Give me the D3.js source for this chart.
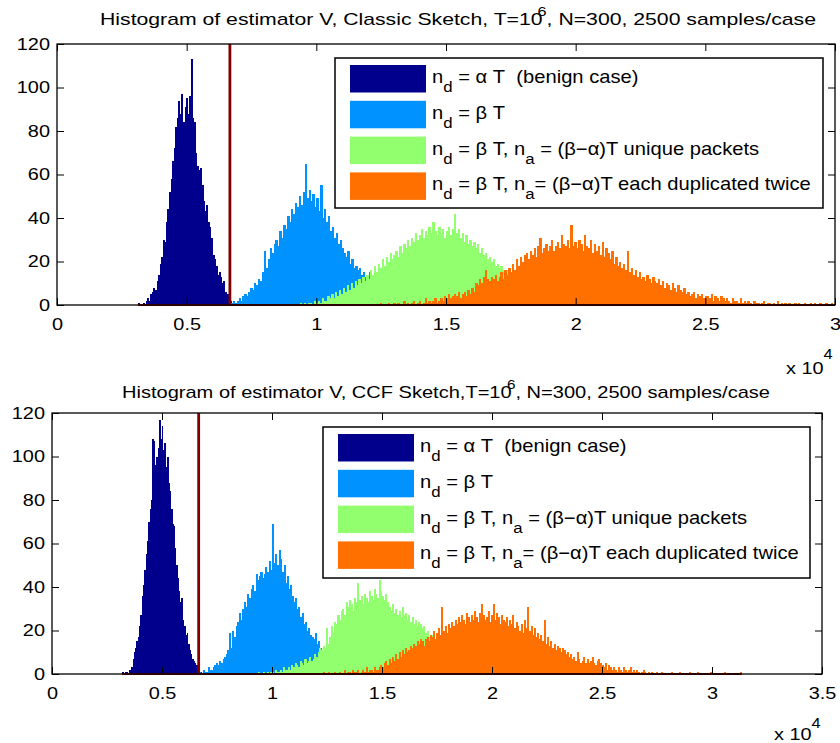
<!DOCTYPE html>
<html>
<head>
<meta charset="utf-8">
<script src="https://cdn.jsdelivr.net/npm/d3@7"></script>
<style>
  body { margin: 0; background: #fff; }
  svg { font-family: "Liberation Sans", Arial, sans-serif; }
</style>
</head>
<body>
<div id="chart"></div>
<script>
// colours of the four cases
const seriesColors = ["#00008c", "#0092ff", "#92ff6e", "#ff7000"];

// legend labels: alternating normal text / subscript
const legendLabels = [
    ["n", "d", " = \u03b1 T\u00a0\u00a0(benign case)"],
    ["n", "d", " = \u03b2 T"],
    ["n", "d", " = \u03b2 T, n", "a", " = (\u03b2\u2212\u03b1)T unique packets"],
    ["n", "d", " = \u03b2 T, n", "a", "= (\u03b2\u2212\u03b1)T each duplicated twice"]
];

const yTicks = [0, 20, 40, 60, 80, 100, 120];
const xTicksClassic = [0, 5000, 10000, 15000, 20000, 25000, 30000];
const xTicksCCF = [0, 5000, 10000, 15000, 20000, 25000, 30000, 35000];
const threshold = 6667;

// bin starts and widths per series (in estimator units)
const binStart = [3120, 6700, 9300, 12300];
const binStartCCF = [3180, 6700, 9300, 12300];
const binWidth = [60, 75, 75, 75];

// ---- Classic sketch counts ----
const classicBenign = [1,0,0,1,0,2,3,2,5,6,8,7,11,14,19,22,30,29,38,44,52,58,66,72,82,86,94,88,97,84,
    91,95,88,96,113,86,84,70,64,62,63,55,48,43,46,38,36,31,23,21,18,14,15,13,10,11,6,5,3,2,1];
const classicBeta = [1,2,1,2,3,2,4,5,4,6,8,7,10,9,12,11,15,25,17,21,26,24,28,30,27,34,31,37,35,41,
    38,44,42,47,45,50,46,52,65,49,53,48,51,45,49,43,55,40,44,38,41,34,36,31,33,28,30,26,24,22,
    25,19,21,17,18,16,17,14,15,13,14,15,10,9,8,7,5,6,4,3,2,2,1];
const classicUnique = [0,1,0,1,0,1,1,0,2,1,2,1,3,2,2,4,3,5,3,6,4,7,5,8,6,9,7,10,8,11,
    9,12,10,13,11,14,12,16,14,18,15,19,17,21,18,22,20,24,21,23,25,22,27,24,28,26,30,27,31,29,
    33,30,32,35,31,34,32,36,33,38,34,32,36,33,35,31,34,36,32,35,42,33,35,31,33,29,32,28,30,27,
    29,26,28,24,26,23,24,21,22,20,21,18,19,17,18,16,15,16,13,14,12,11,12,10,9,10,8,7,8,6,
    5,6,4,5,3,4,3,2,3,2,1,2,1,1,0,1,0,1,0,1];
const classicDup = [0,0,1,0,0,0,1,0,0,1, 0,1,0,0,2,0,1,0,1,2, 0,1,2,0,1,3,1,2,1,2,
    3,1,2,3,2,4,3,5,3,4, 5,4,6,3,5,6,4,7,5,8, 6,10,9,12,10,13,16,12,11,13,
    12,14,11,13,15,12,16,14,17,15, 19,16,21,18,22,20,23,24,21,25, 23,26,22,27,31,24,26,28,25,27,
    30,25,27,29,26,32,28,27,30,26, 37,27,29,26,30,28,25,32,27,26, 30,24,28,25,27,23,29,22,26,24,
    21,25,19,22,18,20,17,19,16,25, 15,17,14,16,13,15,12,13,11,14, 12,10,13,11,10,12,9,11,8,10,
    9,7,10,8,6,9,7,6,8,5, 6,4,5,6,3,5,4,5,3,4, 4,3,5,2,4,3,2,4,3,2,
    3,2,1,3,2,2,1,3,1,2, 1,2,1,0,2,1,1,0,1,2, 0,1,1,0,1,0,2,0,1,0,
    1,0,1,0,0,1,0,1,0,0, 1,0,0,1,0,1,0,0,1,0, 0,1,0,0,1,0];

// ---- CCF sketch counts ----
const ccfBenign = [1,0,1,1,0,2,2,3,7,10,12,15,17,22,27,36,41,48,55,61,70,76,80,108,107,96,100,104,117,108,
    114,103,106,95,100,88,84,76,69,68,58,50,44,38,33,35,25,22,18,19,14,11,9,7,6,5,4,3,2,1];
const ccfBeta = [1,0,2,1,1,3,2,2,3,4, 5,4,6,5,7,8,9,11,19,12, 20,17,22,24,28,25,30,33,31,37,
    35,39,41,38,46,43,45,47,44,46, 49,47,52,48,69,51,55,50,57,53, 47,50,42,45,39,41,36,33,35,30,
    31,26,28,23,24,20,21,18,17,16, 19,14,15,12,10,8,7,5,4,3, 2,1,1];
const ccfUnique = [0,1,0,0,1,0,1,0,1,1, 0,2,1,1,2,1,3,2,2,3, 2,4,3,5,4,3,6,5,4,7,
    5,6,8,6,7,9,8,10,12,11, 13,12,21,14,17,22,19,24,23,27, 25,29,30,27,33,31,34,32,29,35,
    33,42,34,36,32,37,35,33,38,36, 34,39,37,35,43,38,36,34,37,33, 31,29,32,28,30,27,29,26,31,27,
    28,25,27,24,26,23,25,22,24,23, 21,22,19,20,17,16,18,15,14,13, 12,11,12,10,9,10,8,7,8,6,
    5,6,4,5,3,4,3,2,3,2, 1,2,1,1,0,1,0,1,0,1];
const ccfDup = [1,0,0,1,0,0,0,1,0,0, 1,0,0,2,0,1,1,0,2,1, 1,2,0,1,2,1,3,1,2,2,
    1,3,2,2,3,4,3,5,6,4, 7,5,8,6,9,7,10,8,11,9, 12,10,11,13,12,14,13,15,14,16,
    15,13,16,17,15,18,17,20,16,19, 21,18,31,20,22,19,23,21,24,22, 25,23,26,24,27,25,23,28,26,24,
    27,25,29,26,24,28,32,27,25,26, 29,24,27,32,25,28,26,23,27,25, 24,26,22,25,23,27,21,24,22,20,
    23,19,25,21,31,20,22,18,21,17, 19,16,18,15,25,14,17,13,15,12, 14,11,13,12,10,12,11,9,10,8,
    9,7,8,6,10,7,5,6,8,5, 7,5,6,8,5,4,6,7,5,4, 3,5,2,4,3,2,3,2,1,3,
    2,1,3,2,1,2,3,1,2,1, 2,1,0,1,2,1,0,1,0,1, 0,0,1,0,0,1,0,0,0,0,
    0,1,0,0,0,0,1,0,0,0, 0,0,1,0,0,0,0,1,0,0, 0,0,0,0,0,1,0,0,0,0,
    0,0,0,1,0,0,0,0,0,0, 0,0,0,1];

// the original figure's text is a bit wider than our fonts
const stretch = 1.17;

const svg = d3.select("#chart").append("svg")
    .attr("width", 840)
    .attr("height", 743);

function drawPanel(opt) {
    let x = d3.scaleLinear().domain(opt.xDomain).range([opt.left, opt.right]);
    let y = d3.scaleLinear().domain([0, 120]).range([opt.bottom, opt.top]);
    let g = svg.append("g");

    // bars, one series after the other
    opt.series.forEach((counts, s) => {
        g.append("g")
            .attr("shape-rendering", "crispEdges")
            .selectAll("rect")
            .data(counts)
            .join("rect")
            .attr("x", (d, i) => x(opt.starts[s] + i * binWidth[s]))
            .attr("width", x(binWidth[s]) - x(0) + 0.4)
            .attr("y", d => y(d))
            .attr("height", d => y(0) - y(d))
            .attr("fill", seriesColors[s]);
    });

    // dark red baseline under the histograms + threshold line
    let lastS = opt.series.length - 1;
    let xEnd = Math.min(opt.xDomain[1], opt.starts[lastS] + opt.series[lastS].length * binWidth[lastS]);
    g.append("line")
        .attr("x1", x(opt.starts[0])).attr("x2", x(xEnd))
        .attr("y1", y(0)).attr("y2", y(0))
        .attr("stroke", "#800000").attr("stroke-width", 2);
    g.append("line")
        .attr("x1", x(threshold)).attr("x2", x(threshold))
        .attr("y1", y(0)).attr("y2", y(120))
        .attr("stroke", "#800000").attr("stroke-width", 2.8);

    // axes with inward ticks on all sides
    let fmt = d => d === 0 ? "0" : String(d / 10000);
    let axB = g.append("g").attr("transform", `translate(0,${opt.bottom})`)
        .call(d3.axisBottom(x).tickValues(opt.xTicks).tickFormat(fmt).tickSize(-7).tickPadding(13));
    let axT = g.append("g").attr("transform", `translate(0,${opt.top})`)
        .call(d3.axisTop(x).tickValues(opt.xTicks).tickFormat("").tickSize(-7));
    let axL = g.append("g").attr("transform", `translate(${opt.left},0)`)
        .call(d3.axisLeft(y).tickValues(yTicks).tickSize(-7).tickPadding(6));
    let axR = g.append("g").attr("transform", `translate(${opt.right},0)`)
        .call(d3.axisRight(y).tickValues(yTicks).tickFormat("").tickSize(-7));
    [axB, axT, axL, axR].forEach(a => {
        a.select(".domain").remove();
        a.selectAll("line").attr("stroke", "#000");
        a.selectAll("text").attr("font-size", 17).attr("fill", "#000")
            .attr("font-family", "Liberation Sans, Arial, sans-serif")
            .attr("transform", `scale(${stretch},1)`);
    });
    g.append("rect")
        .attr("x", opt.left).attr("y", opt.top)
        .attr("width", opt.right - opt.left).attr("height", opt.bottom - opt.top)
        .attr("fill", "none").attr("stroke", "#000").attr("stroke-width", 1.3);

    // x 10^4 multiplier
    let mult = g.append("text")
        .attr("transform", `translate(${opt.multX},${opt.multY}) scale(${stretch},1)`)
        .attr("font-size", 17).attr("fill", "#000");
    mult.append("tspan").text("x 10");
    mult.append("tspan").attr("dy", opt.multUp).attr("font-size", 14).text("4");

    // title
    let title = g.append("text")
        .attr("x", opt.titleX).attr("y", opt.titleY)
        .attr("font-size", 17).attr("fill", "#000")
        .attr("textLength", opt.titleW).attr("lengthAdjust", "spacingAndGlyphs");
    title.append("tspan").text(opt.titleA);
    title.append("tspan").attr("dy", -9).attr("dx", -4).attr("font-size", 13).text("6");
    title.append("tspan").attr("dy", 9).text(opt.titleB);

    // legend
    let lg = g.append("g");
    lg.append("rect")
        .attr("x", opt.legX).attr("y", opt.legY)
        .attr("width", opt.legW).attr("height", opt.legH)
        .attr("fill", "#fff").attr("stroke", "#000").attr("stroke-width", 1.5);
    legendLabels.forEach((lab, i) => {
        let ry = opt.legY + 7 + i * 35.8;
        lg.append("rect")
            .attr("x", opt.legX + 15).attr("y", ry)
            .attr("width", 76).attr("height", 27.5)
            .attr("fill", seriesColors[i]);
        let t = lg.append("text")
            .attr("transform", `translate(${opt.legX + 97},${ry + 18}) scale(1.12,1)`)
            .attr("font-size", 18).attr("fill", "#000");
        lab.forEach((part, k) => {
            let ts = t.append("tspan").text(part);
            if (k % 2 === 1) ts.attr("font-size", 15).attr("dy", 9);
            else if (k > 0) ts.attr("dy", -9);
        });
    });
}

drawPanel({
    left: 57, right: 835, top: 44, bottom: 305,
    xDomain: [0, 30000], xTicks: xTicksClassic,
    starts: binStart,
    series: [classicBenign, classicBeta, classicUnique, classicDup],
    titleA: "Histogram of estimator V, Classic Sketch, T=10",
    titleB: ", N=300, 2500 samples/case",
    titleX: 100, titleY: 25, titleW: 716,
    multX: 786, multY: 374, multUp: -15,
    legX: 335, legY: 58, legW: 488, legH: 150
});

drawPanel({
    left: 52, right: 822, top: 413, bottom: 674,
    xDomain: [0, 35000], xTicks: xTicksCCF,
    starts: binStartCCF,
    series: [ccfBenign, ccfBeta, ccfUnique, ccfDup],
    titleA: "Histogram of estimator V, CCF Sketch,T=10",
    titleB: ", N=300, 2500 samples/case",
    titleX: 122, titleY: 398, titleW: 648,
    multX: 774, multY: 740, multUp: -12,
    legX: 323, legY: 427, legW: 487, legH: 151
});
</script>
</body>
</html>
